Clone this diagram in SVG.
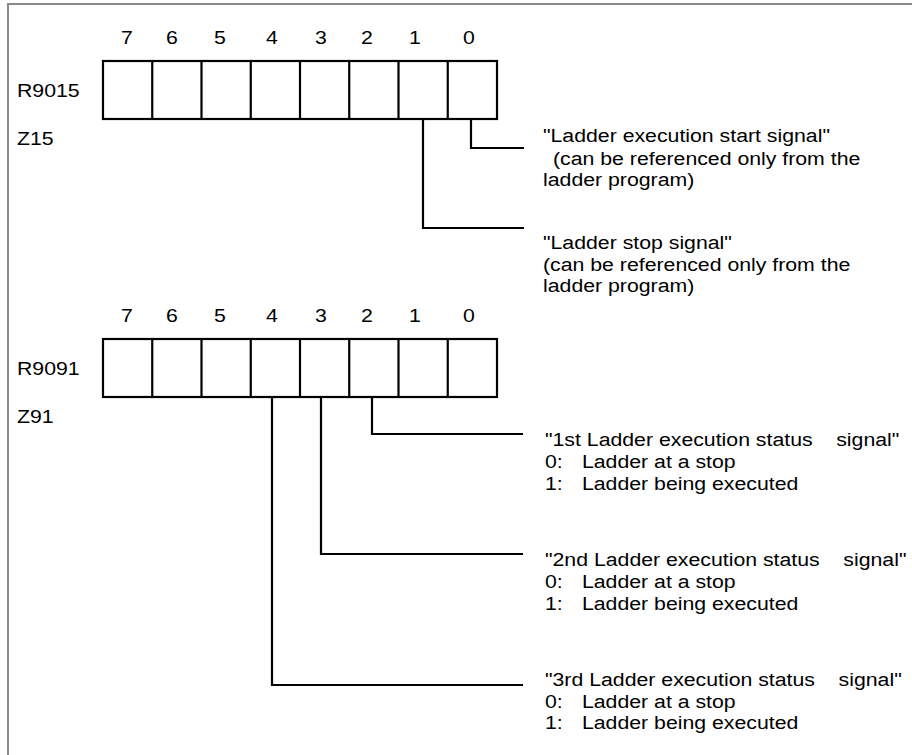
<svg xmlns="http://www.w3.org/2000/svg" width="912" height="755" viewBox="0 0 912 755">
<style>
.t{font-family:"Liberation Sans",Arial,Helvetica,sans-serif;font-size:19px;fill:#000}
.m{text-anchor:middle}
.box{fill:#fff;stroke:#000;stroke-width:2.2}
.div{stroke:#000;stroke-width:2.2}
.con{fill:none;stroke:#000;stroke-width:2.2}
.frame{fill:none;stroke:#8a8a8a;stroke-width:2}
</style>
<rect x="0" y="0" width="912" height="755" fill="#fff"/>
<path class="frame" d="M8,755 V4 H912"/>

<g id="reg-R9015">
  <rect class="box" x="103" y="61" width="394" height="58"/>
  <path class="div" d="M152.25,61V119M201.5,61V119M250.75,61V119M300,61V119M349.25,61V119M398.5,61V119M447.75,61V119"/>
  <text class="t m" transform="translate(127,44) scale(1.12,1)">7</text>
  <text class="t m" transform="translate(172,44) scale(1.12,1)">6</text>
  <text class="t m" transform="translate(220,44) scale(1.12,1)">5</text>
  <text class="t m" transform="translate(272,44) scale(1.12,1)">4</text>
  <text class="t m" transform="translate(321,44) scale(1.12,1)">3</text>
  <text class="t m" transform="translate(367,44) scale(1.12,1)">2</text>
  <text class="t m" transform="translate(415,44) scale(1.12,1)">1</text>
  <text class="t m" transform="translate(469,44) scale(1.12,1)">0</text>
  <text class="t" transform="translate(17,97) scale(1.12,1)">R9015</text>
  <text class="t" transform="translate(17,145) scale(1.12,1)">Z15</text>
</g>

<g id="reg-R9091">
  <rect class="box" x="103" y="339" width="394" height="58"/>
  <path class="div" d="M152.25,339V397M201.5,339V397M250.75,339V397M300,339V397M349.25,339V397M398.5,339V397M447.75,339V397"/>
  <text class="t m" transform="translate(127,322) scale(1.12,1)">7</text>
  <text class="t m" transform="translate(172,322) scale(1.12,1)">6</text>
  <text class="t m" transform="translate(220,322) scale(1.12,1)">5</text>
  <text class="t m" transform="translate(272,322) scale(1.12,1)">4</text>
  <text class="t m" transform="translate(321,322) scale(1.12,1)">3</text>
  <text class="t m" transform="translate(367,322) scale(1.12,1)">2</text>
  <text class="t m" transform="translate(415,322) scale(1.12,1)">1</text>
  <text class="t m" transform="translate(469,322) scale(1.12,1)">0</text>
  <text class="t" transform="translate(17,375) scale(1.12,1)">R9091</text>
  <text class="t" transform="translate(17,423) scale(1.12,1)">Z91</text>
</g>

<g id="connectors">
  <path class="con" d="M471,119 V148 H524"/>
  <path class="con" d="M423,119 V228 H524"/>
  <path class="con" d="M372,397 V434 H523"/>
  <path class="con" d="M321,397 V554 H523"/>
  <path class="con" d="M272,397 V685 H523"/>
</g>

<g id="note-start">
  <text class="t" transform="translate(543,142) scale(1.12,1)">"Ladder execution start signal"</text>
  <text class="t" transform="translate(553,164.5) scale(1.12,1)">(can be referenced only from the</text>
  <text class="t" transform="translate(543,186) scale(1.12,1)">ladder program)</text>
</g>

<g id="note-stop">
  <text class="t" transform="translate(543,249) scale(1.12,1)">"Ladder stop signal"</text>
  <text class="t" transform="translate(543,270.5) scale(1.12,1)">(can be referenced only from the</text>
  <text class="t" transform="translate(543,292) scale(1.12,1)">ladder program)</text>
</g>

<g id="note-1st">
  <text class="t" xml:space="preserve" transform="translate(545,445.5) scale(1.12,1)">"1st Ladder execution status    signal"</text>
  <text class="t" transform="translate(545,467.5) scale(1.12,1)">0:<tspan x="33">Ladder at a stop</tspan></text>
  <text class="t" transform="translate(545,489.5) scale(1.12,1)">1:<tspan x="33">Ladder being executed</tspan></text>
</g>

<g id="note-2nd">
  <text class="t" xml:space="preserve" transform="translate(545,565.5) scale(1.12,1)">"2nd Ladder execution status    signal"</text>
  <text class="t" transform="translate(545,587.5) scale(1.12,1)">0:<tspan x="33">Ladder at a stop</tspan></text>
  <text class="t" transform="translate(545,609.5) scale(1.12,1)">1:<tspan x="33">Ladder being executed</tspan></text>
</g>

<g id="note-3rd">
  <text class="t" xml:space="preserve" transform="translate(545,686) scale(1.12,1)">"3rd Ladder execution status    signal"</text>
  <text class="t" transform="translate(545,707.5) scale(1.12,1)">0:<tspan x="33">Ladder at a stop</tspan></text>
  <text class="t" transform="translate(545,729) scale(1.12,1)">1:<tspan x="33">Ladder being executed</tspan></text>
</g>
</svg>
